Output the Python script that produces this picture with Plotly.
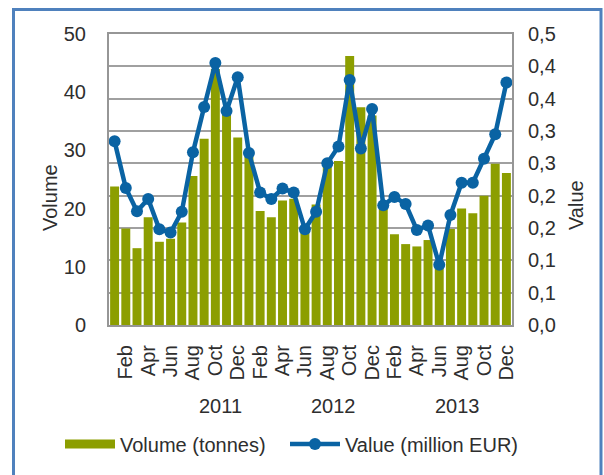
import plotly.graph_objects as go

months = ["Jan", "Feb", "Mar", "Apr", "May", "Jun", "Jul", "Aug", "Sep", "Oct", "Nov", "Dec"]
years = ["2011", "2012", "2013"]

volume_2011 = [23.8, 16.6, 13.2, 18.5, 14.3, 14.8, 17.6, 25.6, 32.0, 44.0, 36.4, 32.2]
volume_2012 = [29.0, 19.6, 18.5, 21.4, 21.7, 16.0, 20.7, 27.5, 28.2, 46.2, 37.4, 36.0]
volume_2013 = [20.3, 15.6, 13.9, 13.5, 14.6, 10.5, 16.5, 20.0, 19.2, 22.2, 27.7, 26.1]

value_2011 = [0.284, 0.212, 0.176, 0.195, 0.148, 0.143, 0.175, 0.267, 0.337, 0.405, 0.331, 0.383]
value_2012 = [0.266, 0.205, 0.195, 0.211, 0.205, 0.148, 0.175, 0.250, 0.276, 0.379, 0.273, 0.334]
value_2013 = [0.185, 0.198, 0.187, 0.147, 0.154, 0.093, 0.170, 0.220, 0.220, 0.257, 0.295, 0.375]

left_ticks = [0, 10, 20, 30, 40, 50]
right_tickvals = [0.00, 0.05, 0.10, 0.15, 0.20, 0.25, 0.30, 0.35, 0.40, 0.45]
right_ticktext = ["0,0", "0,1", "0,1", "0,2", "0,2", "0,3", "0,3", "0,4", "0,4", "0,5"]

volume = volume_2011 + volume_2012 + volume_2013
value = value_2011 + value_2012 + value_2013
n = len(volume)
x = list(range(n))
month_labels = months * len(years)
tickvals = [i for i in x if i % 2 == 1]
ticktext = [month_labels[i] for i in tickvals]

BAR = "#8C9E00"
LINE = "#0A63A3"
TXT = "#2E2E2E"
GRID = "#A0A0A0"
FONT = "Liberation Sans, Arial, sans-serif"

fig = go.Figure()
fig.add_trace(go.Bar(x=x, y=volume, marker=dict(color=BAR, line=dict(width=0)),
                     name="Volume (tonnes)", showlegend=False, yaxis="y"))
# legend-only swatch for the bars (wide bar-like swatch)
fig.add_trace(go.Scatter(x=[None], y=[None], mode="lines", line=dict(color=BAR, width=9),
                         name="Volume (tonnes)", yaxis="y", legend="legend"))
fig.add_trace(go.Scatter(x=x, y=value, mode="lines+markers", name="Value (million EUR)",
                         line=dict(color=LINE, width=4.5), marker=dict(color=LINE, size=12),
                         yaxis="y2", legend="legend2"))

L, R, T, B = 109, 512, 34, 325
W, H = 604, 475
pw, ph = R - L, B - T

def px(xp):
    return (xp - L) / pw

def py(yp):
    return (B - yp) / ph

leg_common = dict(orientation="h", xanchor="left", yanchor="middle",
                  font=dict(size=20, color=TXT), itemwidth=50,
                  bgcolor="rgba(0,0,0,0)")

fig.update_layout(
    width=W, height=H,
    margin=dict(l=L, r=W - R, t=T, b=H - B, pad=0),
    paper_bgcolor="white", plot_bgcolor="white",
    font=dict(family=FONT, size=20, color=TXT),
    bargap=0.2,
    xaxis=dict(range=[-0.5, n - 0.5], tickvals=tickvals, ticktext=ticktext, tickangle=-90,
               showgrid=False, zeroline=False, showline=True, mirror=True,
               linecolor="#969696", linewidth=2, ticks="", ticklabelstandoff=10,
               tickfont=dict(size=20, color=TXT)),
    yaxis=dict(range=[0, 50], tickvals=left_ticks, showgrid=False, zeroline=False,
               showline=True, mirror=True, linecolor="#969696", linewidth=2,
               ticks="", ticklabelstandoff=17, tickfont=dict(size=20, color=TXT)),
    yaxis2=dict(range=[0, 0.45], tickvals=right_tickvals, ticktext=right_ticktext,
                overlaying="y", side="right", showgrid=True, gridcolor=GRID, gridwidth=1.8,
                zeroline=False, showline=False, ticks="", ticklabelstandoff=15,
                tickfont=dict(size=20, color=TXT)),
    legend=dict(x=px(60), y=py(444), **leg_common),
    legend2=dict(x=px(285), y=py(444), **leg_common),
    showlegend=True,
)

year_x = [220, 333, 457]
for yr, xp in zip(years, year_x):
    fig.add_annotation(text=yr, x=px(xp), y=py(406), xref="paper", yref="paper",
                       showarrow=False, font=dict(size=20, color=TXT), xanchor="center", yanchor="middle")

fig.add_annotation(text="Volume", x=px(50), y=py(198), xref="paper", yref="paper", textangle=-90,
                   showarrow=False, font=dict(size=20, color=TXT), xanchor="center", yanchor="middle")
fig.add_annotation(text="Value", x=px(576), y=py(205), xref="paper", yref="paper", textangle=-90,
                   showarrow=False, font=dict(size=20, color=TXT), xanchor="center", yanchor="middle")

fig.add_shape(type="rect", xref="paper", yref="paper", x0=px(13.5), x1=px(601), y0=py(490), y1=py(9.5),
              line=dict(color="#4F81BD", width=3), fillcolor="rgba(0,0,0,0)", layer="above")

fig.write_html("out.html", config={"displayModeBar": False},
               post_script="document.body.style.margin='0';document.body.style.overflow='hidden';")
